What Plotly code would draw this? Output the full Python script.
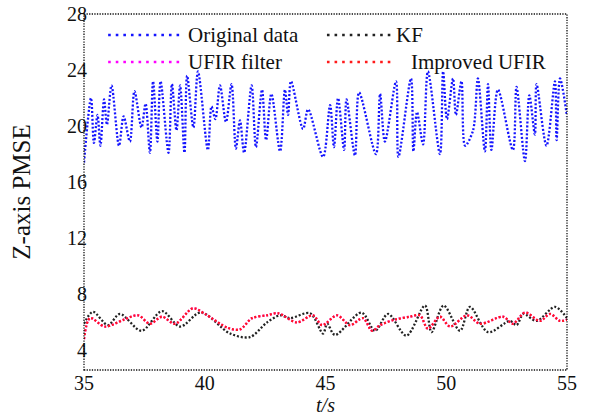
import plotly.graph_objects as go

# ---------------- data ----------------
t_orig = [35.00, 35.29, 35.41, 35.56, 35.68, 35.83, 35.95, 36.14, 36.45, 36.64,
          36.90, 37.09, 37.38, 37.55, 37.73, 37.86, 38.04, 38.17, 38.50, 38.64,
          38.83, 38.98, 39.16, 39.27, 39.53, 39.72, 40.13, 40.28, 40.44, 40.63,
          40.88, 41.11, 41.29, 41.46, 41.63, 41.94, 42.12, 42.37, 42.54, 42.76,
          43.12, 43.32, 43.45, 43.57, 44.07, 44.28, 44.90, 45.19, 45.35, 45.52,
          45.77, 45.87, 46.22, 46.39, 47.09, 47.26, 47.46, 47.92, 48.02, 48.54,
          48.64, 48.79, 49.04, 49.24, 49.74, 49.87, 50.03, 50.28, 50.40, 50.63,
          50.78, 51.11, 51.31, 51.60, 51.73, 51.87, 52.14, 52.76, 52.91, 53.26,
          53.44, 53.67, 53.74, 54.15, 54.50, 54.57, 54.71, 55.00]
y_orig = [17.4, 22.0, 18.8, 20.8, 18.6, 21.9, 20.1, 22.9, 18.6, 20.7,
          18.9, 22.5, 19.9, 21.6, 18.1, 23.2, 18.9, 23.2, 18.1, 23.0,
          19.7, 22.9, 18.1, 23.6, 19.9, 23.9, 18.3, 21.4, 20.5, 22.9,
          20.3, 23.0, 18.4, 20.4, 18.1, 22.9, 18.5, 22.6, 19.0, 22.3,
          18.2, 22.6, 20.8, 23.2, 19.8, 21.2, 17.8, 21.5, 18.5, 22.0,
          18.3, 21.9, 17.9, 22.4, 18.0, 22.3, 18.9, 23.2, 17.8, 23.4,
          18.2, 21.0, 18.7, 23.9, 18.0, 23.9, 20.5, 23.4, 20.8, 23.2,
          18.6, 19.7, 23.4, 18.2, 23.0, 18.3, 22.6, 18.3, 22.8, 17.5,
          22.2, 19.4, 23.0, 18.6, 23.2, 19.0, 23.4, 20.7]

t_kf = [35.00, 35.37, 35.99, 36.49, 37.38, 38.23, 38.98, 39.84, 41.05, 41.87,
        42.58, 43.12, 43.53, 44.36, 44.90, 45.07, 45.39, 46.49, 47.05, 47.59,
        48.35, 49.12, 49.39, 49.89, 50.57, 50.98, 51.73, 52.64, 52.91, 53.20,
        53.74, 54.50, 55.00]
y_kf = [5.9, 6.75, 5.8, 6.6, 5.4, 6.8, 5.7, 6.7, 5.2, 4.95,
        6.0, 6.5, 6.3, 6.65, 5.2, 5.9, 5.1, 6.7, 5.4, 6.6,
        5.05, 7.2, 5.3, 7.2, 5.4, 7.1, 5.3, 6.1, 5.8, 6.6,
        6.1, 7.1, 6.3]

t_imp = [35.00, 35.25, 35.87, 36.66, 37.24, 37.73, 38.23, 38.77, 39.51, 40.01,
         40.96, 41.46, 41.96, 42.58, 43.03, 43.82, 44.48, 44.86, 45.48, 46.01,
         46.55, 46.93, 47.26, 47.88, 48.50, 48.91, 49.24, 49.74, 50.16, 50.86,
         51.40, 52.35, 52.76, 53.26, 53.88, 54.30, 54.71, 55.00]
y_imp = [4.8, 6.3, 5.7, 6.2, 6.5, 5.9, 6.4, 5.9, 7.0, 6.6,
         5.6, 5.5, 6.3, 6.5, 6.65, 6.0, 6.5, 5.8, 6.5, 5.8,
         6.3, 5.4, 5.8, 6.2, 6.4, 6.5, 5.55, 6.4, 5.7, 6.5,
         5.9, 6.4, 5.9, 6.7, 6.1, 6.6, 6.1, 6.2]

# UFIR filter lies under the improved UFIR curve in the reference
t_ufir = list(t_imp)
y_ufir = list(y_imp)

x_ticks = [35, 40, 45, 50, 55]
y_ticks = [4, 8, 12, 16, 20, 24, 28]

names = ["Original data", "KF", "UFIR filter", "Improved UFIR"]
colors = ["#1414ff", "#222222", "#ff00ff", "#ff1a1a"]

FONT = "Liberation Serif, Times New Roman, serif"
DOTS = "2px,1.9px"

fig = go.Figure()
series = [(t_orig, y_orig, 0), (t_kf, y_kf, 1), (t_ufir, y_ufir, 2), (t_imp, y_imp, 3)]
for tx, ty, k in series:
    fig.add_trace(go.Scatter(
        x=tx, y=ty, mode="lines", name=names[k],
        line=dict(color=colors[k], width=2.3, dash=DOTS, shape="spline", smoothing=0.9),
        showlegend=False,
    ))

# ---------------- manual legend (two columns, long dotted samples) ----------------
leg_rows = [0.941, 0.941, 0.865, 0.865]
leg_x0 = [0.050, 0.503, 0.050, 0.503]
leg_x1 = [0.205, 0.636, 0.205, 0.636]
leg_tx = [0.211, 0.642, 0.211, 0.673]
for k in range(4):
    fig.add_shape(type="line", xref="paper", yref="paper",
                  x0=leg_x0[k], x1=leg_x1[k], y0=leg_rows[k], y1=leg_rows[k],
                  line=dict(color=colors[k], width=2.6, dash="2.6px,5px"))
    fig.add_annotation(xref="paper", yref="paper", x=leg_tx[k], y=leg_rows[k],
                       text=names[k], showarrow=False, xanchor="left", yanchor="middle",
                       font=dict(family=FONT, size=21, color="#111111"))

# dotted frame
fig.add_shape(type="rect", xref="paper", yref="paper", x0=0, x1=1, y0=0, y1=1,
              line=dict(color="#111111", width=1.3, dash="1.3px,1.3px"), layer="above")

fig.update_layout(
    width=592, height=416,
    margin=dict(l=84, r=25, t=14, b=46, autoexpand=False),
    paper_bgcolor="white", plot_bgcolor="white",
    font=dict(family=FONT, size=19, color="#111111"),
    xaxis=dict(range=[35, 55], tickvals=x_ticks, ticktext=[str(v) for v in x_ticks],
               showgrid=False, zeroline=False, showline=False, ticks="", automargin=False,
               tickfont=dict(family=FONT, size=20), ticklabelstandoff=-1,
               title=dict(text="<i>t/s</i>", font=dict(family=FONT, size=20), standoff=11)),
    yaxis=dict(range=[2.6, 28], tickvals=y_ticks, ticktext=[str(v) for v in y_ticks],
               showgrid=False, zeroline=False, showline=False, ticks="", automargin=False,
               tickfont=dict(family=FONT, size=20), ticklabelstandoff=-4,
               title=dict(text="Z-axis PMSE", font=dict(family=FONT, size=25), standoff=29)),
)

fig.write_html("out.html", post_script="document.body.style.margin='0';",
               config={"displayModeBar": False})
